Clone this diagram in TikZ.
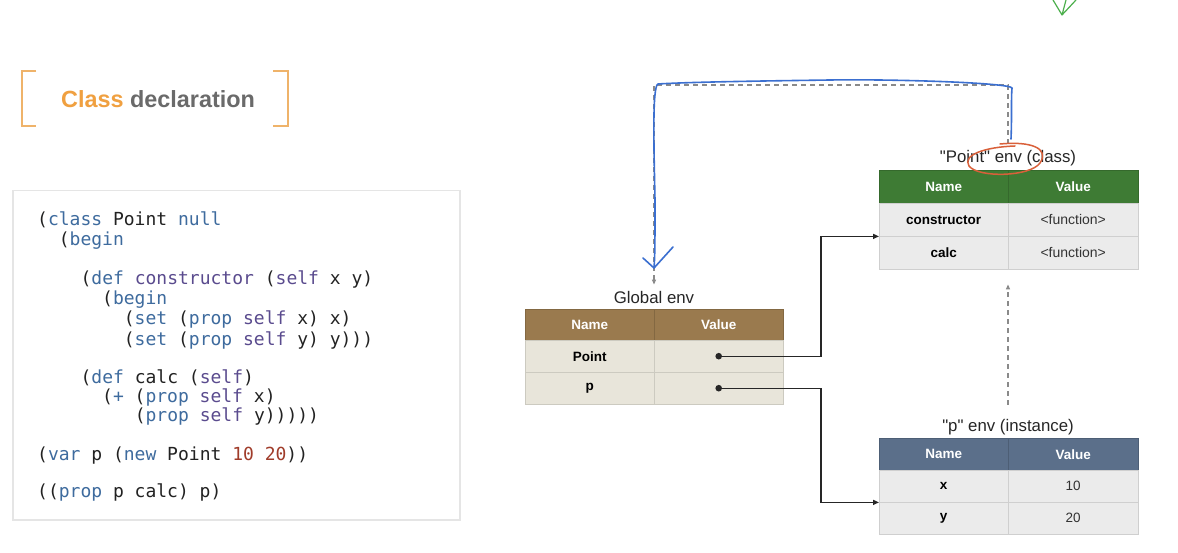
\documentclass[tikz,border=0pt]{standalone}
\usepackage{fontspec}
\setmainfont{Liberation Sans}
\newfontfamily\plainsans{Liberation Sans}
\newfontfamily\codefont{DejaVu Sans Mono}
\usetikzlibrary{arrows.meta,calc}
\definecolor{orangeT}{HTML}{F0A040}
\definecolor{bracketC}{HTML}{EFB36A}
\definecolor{grayT}{HTML}{6A6A6A}
\definecolor{kwc}{HTML}{3E6B9E}
\definecolor{puc}{HTML}{5A4B8E}
\definecolor{numc}{HTML}{A03C2A}
\definecolor{codec}{HTML}{222222}
\definecolor{brownH}{HTML}{9A7A4E}
\definecolor{greenH}{HTML}{3E7B34}
\definecolor{slateH}{HTML}{5B6F8A}
\definecolor{beigeB}{HTML}{E8E5DA}
\definecolor{grayB}{HTML}{EBEBEB}
\definecolor{dashC}{HTML}{8A8A8A}
\definecolor{bluePen}{HTML}{3B6FD0}
\definecolor{redPen}{HTML}{D9603A}
\newcommand\ckw[1]{\textcolor{kwc}{#1}}
\newcommand\cpu[1]{\textcolor{puc}{#1}}
\newcommand\cnum[1]{\textcolor{numc}{#1}}
\begin{document}
\begin{tikzpicture}[x=1pt,y=-1pt,
  codeline/.style={anchor=base west, inner sep=0pt, text=codec, font=\codefont\fontsize{18}{20}\selectfont},
  hdrcell/.style={rectangle, anchor=north west, inner sep=0pt, fill=#1, draw=#1!85!black, text=white, font=\fontsize{13.5}{16}\selectfont\bfseries},
  bodycell/.style={rectangle, anchor=north west, inner sep=0pt, fill=#1, draw=#1!88!black, text=black},
  namefont/.style={font=\fontsize{13.5}{16}\selectfont\bfseries},
  valfont/.style={font=\fontsize{14}{16}\selectfont, text=black!80},
  envtitle/.style={inner sep=2pt, font=\plainsans\fontsize{16.8}{19}\selectfont, text=black!85},
  conn/.style={line width=1.4pt, draw=black!85, -{Triangle[length=6pt,width=5pt]}},
  dlink/.style={line width=1.2pt, draw=dashC, dash pattern=on 5pt off 4pt, -{Triangle[length=5pt,width=4pt]}},
  bluestroke/.style={line width=1.6pt, draw=bluePen, line cap=round, line join=round},
  redstroke/.style={line width=1.5pt, draw=redPen, line cap=round}
]
\useasboundingbox (0,0) rectangle (1178,553);
\fill[white] (0,0) rectangle (1178,553);

% green logo fragment
\draw[green!55!black!70, line width=1.2pt, line cap=round] (1062,15) -- (1053,0) (1062,15) -- (1066,0) (1062,15) -- (1076,0);

% title with brackets
\draw[bracketC, line width=1.6pt] (36,71) -- (22,71) -- (22,126) -- (36,126);
\draw[bracketC, line width=1.6pt] (273,71) -- (288,71) -- (288,126) -- (273,126);
\node[anchor=base west, inner sep=0pt, font=\fontsize{23.4}{26}\selectfont\bfseries] (title) at (61,108)
  {\textcolor{orangeT}{Class} \textcolor{grayT}{declaration}};

% code box
\node[draw=black!10, line width=1.5pt, fill=white, minimum width=447pt, minimum height=329pt, anchor=north west, inner sep=0pt] (codebox) at (12,190) {};
\node[codeline] (c1) at (37,226) {(\ckw{class} Point \ckw{null}};
\node[codeline] (c2) at (58.7,246) {(\ckw{begin}};
\node[codeline] (c3) at (80.4,285) {(\ckw{def} \cpu{constructor} (\cpu{self} x y)};
\node[codeline] (c4) at (102,305) {(\ckw{begin}};
\node[codeline] (c5) at (123.7,325) {(\ckw{set} (\ckw{prop} \cpu{self} x) x)};
\node[codeline] (c6) at (123.7,345) {(\ckw{set} (\ckw{prop} \cpu{self} y) y)))};
\node[codeline] (c7) at (80.4,383) {(\ckw{def} calc (\cpu{self})};
\node[codeline] (c8) at (102,402) {(\ckw{+} (\ckw{prop} \cpu{self} x)};
\node[codeline] (c9) at (134.6,421) {(\ckw{prop} \cpu{self} y)))))};
\node[codeline] (c10) at (37,460) {(\ckw{var} p (\ckw{new} Point \cnum{10 20}))};
\node[codeline] (c11) at (37,497) {((\ckw{prop} p calc) p)};

% Global env table
\node[envtitle] (gtitle) at (654,297) {Global env};
\node[hdrcell=brownH, minimum width=129pt, minimum height=31pt] (gh1) at (525,309) {Name};
\node[hdrcell=brownH, minimum width=129pt, minimum height=31pt] (gh2) at (654,309) {Value};
\node[bodycell=beigeB, namefont, minimum width=129pt, minimum height=32pt] (gn1) at (525,340) {Point};
\node[bodycell=beigeB, minimum width=129pt, minimum height=32pt] (gv1) at (654,340) {};
\node[bodycell=beigeB, namefont, minimum width=129pt, minimum height=32pt] (gn2) at (525,372) {p};
\node[bodycell=beigeB, minimum width=129pt, minimum height=32pt] (gv2) at (654,372) {};

% Point env table
\node[envtitle] (ptitle) at (1008,158) {"Point" env (class)};
\node[hdrcell=greenH, minimum width=129pt, minimum height=33pt] (ph1) at (879,170) {Name};
\node[hdrcell=greenH, minimum width=130pt, minimum height=33pt] (ph2) at (1008,170) {Value};
\node[bodycell=grayB, namefont, minimum width=129pt, minimum height=33pt] (pn1) at (879,203) {constructor};
\node[bodycell=grayB, valfont, minimum width=130pt, minimum height=33pt] (pv1) at (1008,203) {<function>};
\node[bodycell=grayB, namefont, minimum width=129pt, minimum height=33pt] (pn2) at (879,236) {calc};
\node[bodycell=grayB, valfont, minimum width=130pt, minimum height=33pt] (pv2) at (1008,236) {<function>};

% p env table
\node[envtitle] (ititle) at (1008,427) {"p" env (instance)};
\node[hdrcell=slateH, minimum width=129pt, minimum height=32pt] (ih1) at (879,438) {Name};
\node[hdrcell=slateH, minimum width=130pt, minimum height=32pt] (ih2) at (1008,438) {Value};
\node[bodycell=grayB, namefont, minimum width=129pt, minimum height=32pt] (in1) at (879,470) {x};
\node[bodycell=grayB, valfont, font=\fontsize{13.5}{16}\selectfont, minimum width=130pt, minimum height=32pt] (iv1) at (1008,470) {10};
\node[bodycell=grayB, namefont, minimum width=129pt, minimum height=32pt] (in2) at (879,502) {y};
\node[bodycell=grayB, valfont, font=\fontsize{13.5}{16}\selectfont, minimum width=130pt, minimum height=32pt] (iv2) at (1008,502) {20};

% connectors
\coordinate (bend) at (821,0);
\coordinate (top) at (0,85);
\fill[black!85] (gv1.center) circle (3.3pt);
\fill[black!85] (gv2.center) circle (3.3pt);
\draw[conn] (gv1.center) -- (gv1.center -| bend) -- (bend |- pn1.south west) -- (pn1.south west);
\draw[conn] (gv2.center) -- (gv2.center -| bend) -- (bend |- in1.south west) -- (in1.south west);

% dashed links
\draw[dlink, shorten <=12pt, shorten >=15pt] (ititle.north) -- (pn2.south -| ititle.north);
\draw[dlink, shorten <=4pt, shorten >=4pt] (ptitle.north) -- (ptitle.north |- top) -- (gtitle.north |- top) -- (gtitle.north);

% blue freehand annotation
\draw[bluestroke] (1011,139) .. controls (1012,115) and (1011,100) .. (1012,88)
  .. controls (1010,83) and (900,79) .. (830,80)
  .. controls (760,81) and (690,82) .. (658,84)
  .. controls (652,86) and (654,150) .. (655,200)
  .. controls (655,240) and (655,255) .. (654,268);
\draw[bluestroke] (643,258) -- (654,268) -- (673,247);

% red circle annotation
\draw[redstroke] (1000,144) .. controls (1030,141) and (1050,148) .. (1040,163)
  .. controls (1030,177) and (978,178) .. (969,166)
  .. controls (962,155) and (985,147) .. (1015,146);
\end{tikzpicture}
\end{document}
